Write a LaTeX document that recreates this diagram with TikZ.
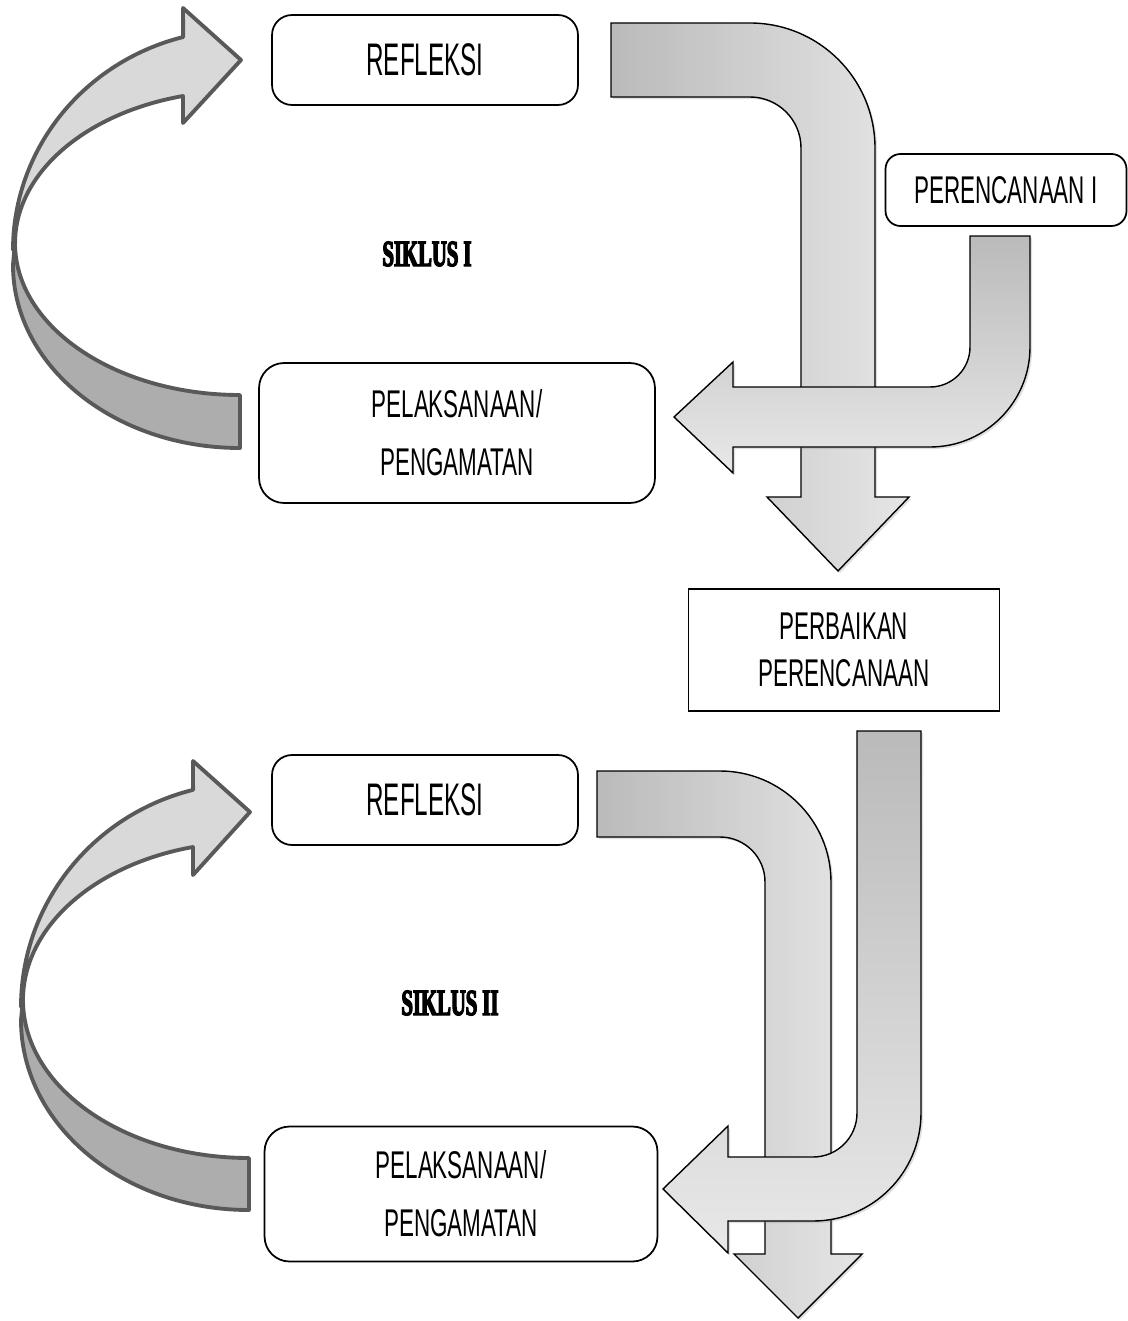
\documentclass[tikz,border=0pt]{standalone}
\usepackage{fontspec}
\setmainfont{Liberation Sans}
\newfontfamily\agency[FakeStretch=0.58]{Liberation Sans}
\newfontfamily\agencyb[FakeStretch=0.53]{Liberation Sans}
\newfontfamily\bern[FakeStretch=0.56,FakeBold=3.5]{Liberation Serif}
\usetikzlibrary{shadows}
\begin{document}
\begin{tikzpicture}[x=0.02cm,y=-0.02cm,
  curv/.style={draw=black!65, line width=2.2pt, line join=round},
  front/.style={curv, fill=black!15},
  back/.style={curv, fill=black!32},
  blk/.style={draw=black, line width=0.8pt, line join=miter,
    drop shadow={shadow xshift=1.2pt, shadow yshift=-1.2pt, opacity=0.25}},
  hshade/.style={left color=black!27, right color=black!10},
  vshade/.style={top color=black!27, bottom color=black!9},
  box/.style={draw=black, line width=1pt, fill=white, align=center,
    font=\agency\fontsize{22}{33}\selectfont},
  bigtxt/.style={font=\agencyb\fontsize{26}{30}\selectfont},
  cyc/.style={font=\bern\bfseries\fontsize{21}{24}\selectfont}
]
\useasboundingbox (0,0) rectangle (1128,1321);

% ---------- Cycle I ----------
% curved return arrow
\path[back] (240,395) arc[start angle=90, end angle=180, x radius=225, y radius=152]
  -- (13,265) arc[start angle=180, end angle=90, x radius=227, y radius=183] -- cycle;
\path[front] (13,250) arc[start angle=180, end angle=255.5, x radius=227, y radius=220]
  -- (183,8) -- (241,60) -- (183,123) -- (183,96)
  arc[start angle=255.3, end angle=180, x radius=225, y radius=152] -- cycle;

% big bent arrow
\path[blk, hshade] (611,23) -- (750,23) arc[start angle=270, end angle=360, radius=125]
  -- (875,497) -- (909,497) -- (838,571) -- (767,497) -- (801,497) -- (801,148)
  arc[start angle=0, end angle=-90, radius=51] -- (611,97) -- cycle;

% J arrow from Perencanaan I
\path[blk, vshade] (970,236) -- (1030,236) -- (1030,347)
  arc[start angle=0, end angle=90, radius=100] -- (733,447) -- (733,473) -- (674,417)
  -- (733,362) -- (733,387) -- (930,387) arc[start angle=90, end angle=0, radius=40] -- cycle;

\node[box, bigtxt, rounded corners=0.4cm, minimum width=6.12cm, minimum height=1.8cm] (r1) at (425,60) {REFLEKSI};
\node[box, rounded corners=0.5cm, minimum width=7.92cm, minimum height=2.8cm] (p1) at (457,433) {PELAKSANAAN/\\PENGAMATAN};
\node[box, rounded corners=0.3cm, minimum width=4.82cm, minimum height=1.44cm] (c1) at (1006,190) {PERENCANAAN I};
\node[cyc] (s1) at (427,254) {SIKLUS I};

% ---------- Perbaikan ----------
\node[box, minimum width=6.22cm, minimum height=2.44cm, font=\agency\fontsize{22}{27}\selectfont] (pb) at (844,650) {PERBAIKAN\\PERENCANAAN};

% ---------- Cycle II ----------
\path[back] (249,1158) arc[start angle=90, end angle=180, x radius=226, y radius=158]
  -- (21,1020) arc[start angle=180, end angle=90, x radius=228, y radius=190] -- cycle;
\path[front] (21,1007) arc[start angle=180, end angle=255.8, x radius=228, y radius=224]
  -- (193,761) -- (250,812) -- (193,875) -- (193,847)
  arc[start angle=255.65, end angle=180, x radius=226, y radius=158] -- cycle;

\path[blk, hshade] (597,771) -- (720,771) arc[start angle=270, end angle=360, radius=111]
  -- (831,1254) -- (862,1254) -- (798,1318) -- (734,1254) -- (765,1254) -- (765,882)
  arc[start angle=0, end angle=-90, radius=45] -- (597,837) -- cycle;

\path[blk, vshade] (857,731) -- (921,731) -- (921,1113)
  arc[start angle=0, end angle=90, radius=108] -- (728,1221) -- (728,1253) -- (663,1189)
  -- (728,1126) -- (728,1157) -- (813,1157) arc[start angle=90, end angle=0, radius=44] -- cycle;

\node[box, bigtxt, rounded corners=0.4cm, minimum width=6.12cm, minimum height=1.8cm] (r2) at (425,800) {REFLEKSI};
\node[box, rounded corners=0.5cm, minimum width=7.86cm, minimum height=2.7cm] (p2) at (461,1194) {PELAKSANAAN/\\PENGAMATAN};
\node[cyc] (s2) at (450,1003) {SIKLUS II};
\end{tikzpicture}
\end{document}
